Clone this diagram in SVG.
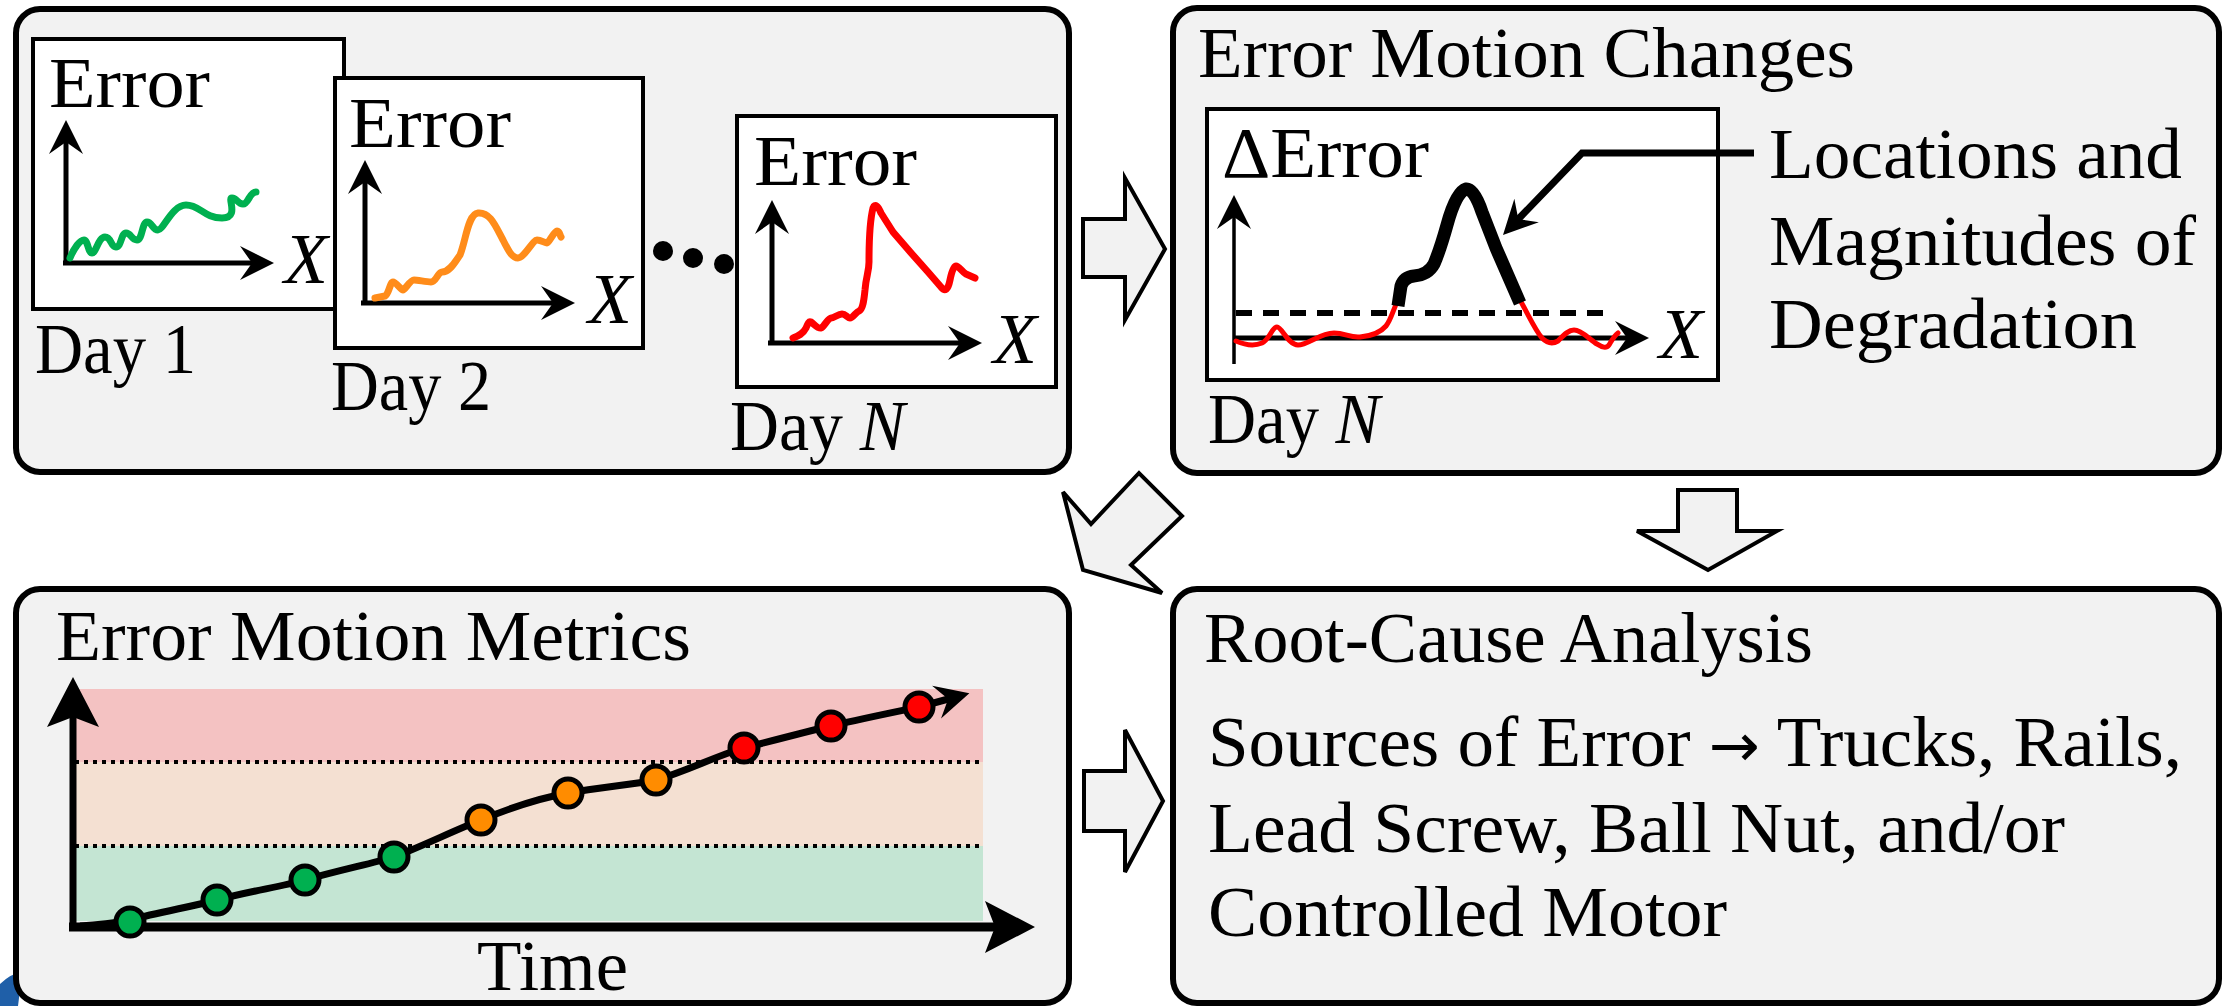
<svg xmlns="http://www.w3.org/2000/svg" width="2229" height="1006" viewBox="0 0 2229 1006">
<style>
.t{font-family:"Liberation Serif","Times New Roman",serif;font-size:72px;fill:#000}
.i{font-style:italic}
.panel{fill:#F2F2F2;stroke:#000;stroke-width:6}
.box{fill:#fff;stroke:#000;stroke-width:4}
.ax{fill:none;stroke:#000;stroke-width:5;marker-end:url(#ah)}
.blk{fill:#F2F2F2;stroke:#000;stroke-width:4;stroke-linejoin:miter}
.crv{fill:none;stroke-width:7;stroke-linecap:round;stroke-linejoin:round}
.dot{stroke:#000;stroke-width:5}
</style>
<defs>
<marker id="ah" markerUnits="userSpaceOnUse" viewBox="-20 -20 40 40" markerWidth="40" markerHeight="40" refX="0" refY="0" orient="auto"><path d="M18,0 L-16,-17 L-4,0 L-16,17 Z" fill="#000"/></marker>
<marker id="ahb" markerUnits="userSpaceOnUse" viewBox="-30 -30 60 60" markerWidth="60" markerHeight="60" refX="0" refY="0" orient="auto"><path d="M26,0 L-24,-26 L-14,0 L-24,26 Z" fill="#000"/></marker>
</defs>
<rect width="2229" height="1006" fill="#fff"/>
<path d="M0,984 Q10,974 26,970 L20,990 L18,1006 L0,1006 Z" fill="#1F5FA8"/>

<g id="daily-error">
<rect class="panel" x="16" y="9" width="1053" height="463" rx="24"/>
<g id="day1">
<rect class="box" x="33" y="39" width="311" height="270"/>
<text class="t" x="49" y="107" textLength="161" lengthAdjust="spacingAndGlyphs">Error</text>
<line class="ax" x1="66" y1="265" x2="66" y2="138"/>
<line class="ax" x1="63" y1="263" x2="256" y2="263"/>
<path class="crv" stroke="#00B050" d="M70,258 C74,248 80,240 84,240 S88,253 92,253 S98.5,237 105,237 S110.5,247 116,247 S121,233 126,233 S131.5,240 137,240 S142,222 147,222 S152.5,230 158,230 S172,205 186,205 S204,218 222,218 S227,198 232,198 S237.5,204 243,204 S249.5,192 256,192"/>
<text class="t i" x="284" y="283">X</text>
<text class="t" x="35" y="373" textLength="161" lengthAdjust="spacingAndGlyphs">Day 1</text>
</g>
<g id="day2">
<rect class="box" x="335" y="78" width="308" height="270"/>
<text class="t" x="349" y="147" textLength="162" lengthAdjust="spacingAndGlyphs">Error</text>
<line class="ax" x1="365" y1="305" x2="365" y2="178"/>
<line class="ax" x1="361" y1="303" x2="557" y2="303"/>
<path class="crv" stroke="#FF8C1A" d="M375,298 L385,296 C389,294 390,282 393,282 S401,290 403,290 S410,280 414,280 S426,282 431,282 S438,272 442,272 C450,272 455,262 460,255 C466,240 468,214 478,213 C490,212 495,225 503,240 C508,250 512,258 518,258 S533,240 537,240 S545,243 547,243 S554,231 557,231 S560,236 561,237"/>
<text class="t i" x="588" y="323">X</text>
<text class="t" x="331" y="410" textLength="160" lengthAdjust="spacingAndGlyphs">Day 2</text>
</g>
<g id="ellipsis">
<circle cx="663" cy="251" r="10"/>
<circle cx="693" cy="258" r="10"/>
<circle cx="724" cy="264" r="10"/>
</g>
<g id="dayN">
<rect class="box" x="737" y="116" width="319" height="271"/>
<text class="t" x="754" y="185" textLength="163" lengthAdjust="spacingAndGlyphs">Error</text>
<line class="ax" x1="772" y1="345" x2="772" y2="218"/>
<line class="ax" x1="768" y1="343" x2="964" y2="343"/>
<path class="crv" stroke="#FF0000" d="M793,338 C798,336 803,334 806,328 C808,323 809,321 811,322 S818,329 821,328 S828,318 831,318 S838,314 842,314 S847,318 850,318 S856,312 859,311 C863,309 864,300 865,290 C866,276 869,272 869,262 C869,245 870,220 873,208 C875,203 878,206 881,213 L893,232 L912,254 L928,272 L941,287 C945,292 948,290 950,280 C952,270 954,266 956,266 C959,266 962,272 966,274 L975,278"/>
<text class="t i" x="993" y="363">X</text>
<text class="t" x="730" y="450" textLength="175" lengthAdjust="spacingAndGlyphs">Day <tspan class="i">N</tspan></text>
</g>
</g>

<g id="error-motion-changes">
<rect class="panel" x="1173" y="8" width="1046" height="465" rx="24"/>
<text class="t" x="1198" y="77" textLength="657" lengthAdjust="spacingAndGlyphs">Error Motion Changes</text>
<rect class="box" x="1207" y="109" width="511" height="271"/>
<text class="t" x="1222" y="177" textLength="207" lengthAdjust="spacingAndGlyphs">ΔError</text>
<line class="ax" x1="1234" y1="364" x2="1234" y2="213" style="stroke-width:3.5"/>
<line x1="1236" y1="313" x2="1611" y2="313" stroke="#000" stroke-width="6" stroke-dasharray="16 11"/>
<line class="ax" x1="1233" y1="338" x2="1631" y2="338"/>
<path class="crv" stroke="#FF0000" style="stroke-width:5" d="M1236,341 C1245,345 1255,346 1262,343 C1270,339 1272,327 1277,327 C1282,327 1288,345 1298,345 C1308,345 1320,333 1334,333 C1345,333 1350,338 1360,337 C1372,336 1380,333 1386,326 C1391,320 1393,310 1398,300"/>
<path class="crv" stroke="#FF0000" style="stroke-width:5" d="M1520,300 C1528,314 1535,330 1542,338 C1548,344 1553,344 1558,341 C1563,336 1568,330 1574,330 C1582,330 1590,340 1597,344 C1602,347 1606,349 1609,345 C1612,340 1614,336 1618,333"/>
<path d="M1398,306 L1401,286 Q1404,277 1414,276 Q1428,275 1434,264 Q1440,250 1447,225 Q1456,192 1466,189 Q1474,188 1482,212 L1496,248 L1520,303" fill="none" stroke="#000" stroke-width="13" stroke-linejoin="round"/>
<text class="t i" x="1659" y="358">X</text>
<polyline points="1754,153 1582,153 1515.5,222" fill="none" stroke="#000" stroke-width="7" marker-end="url(#ah)"/>
<text class="t" x="1769" y="178" textLength="413" lengthAdjust="spacingAndGlyphs">Locations and</text>
<text class="t" x="1769" y="265" textLength="427" lengthAdjust="spacingAndGlyphs">Magnitudes of</text>
<text class="t" x="1769" y="348" textLength="368" lengthAdjust="spacingAndGlyphs">Degradation</text>
<text class="t" x="1208" y="443" textLength="172" lengthAdjust="spacingAndGlyphs">Day <tspan class="i">N</tspan></text>
</g>

<g id="error-motion-metrics">
<rect class="panel" x="16" y="589" width="1053" height="414" rx="24"/>
<text class="t" x="56" y="660" textLength="635" lengthAdjust="spacingAndGlyphs">Error Motion Metrics</text>
<rect x="75" y="689" width="908" height="73" fill="#F4C2C2"/>
<rect x="75" y="762" width="908" height="84" fill="#F4E0D2"/>
<rect x="75" y="846" width="908" height="75" fill="#C4E5D3"/>
<line x1="75" y1="762" x2="983" y2="762" stroke="#000" stroke-width="4" stroke-dasharray="4 5"/>
<line x1="75" y1="846" x2="983" y2="846" stroke="#000" stroke-width="4" stroke-dasharray="4 5"/>
<line x1="73" y1="931" x2="73" y2="703" stroke="#000" stroke-width="7" marker-end="url(#ahb)"/>
<line x1="69" y1="927" x2="1009" y2="927" stroke="#000" stroke-width="9" marker-end="url(#ahb)"/>
<path d="M80,926 C100,925 115,923 130,920 C160,912 190,907 217,900 C250,891 280,887 305,880 C340,870 370,864 394,857 C425,845 455,830 481,820 C510,808 540,798 568,793 C600,787 630,785 656,780 C690,770 715,756 744,748 C775,740 805,732 831,726 C865,718 895,712 919,707 L952,698" fill="none" stroke="#000" stroke-width="7" stroke-linejoin="round" marker-end="url(#ah)"/>
<g class="dot" fill="#00B050">
<circle cx="130" cy="922" r="14"/>
<circle cx="217" cy="900" r="14"/>
<circle cx="305" cy="880" r="14"/>
<circle cx="394" cy="857" r="14"/>
</g>
<g class="dot" fill="#FF8C00">
<circle cx="481" cy="820" r="14"/>
<circle cx="568" cy="793" r="14"/>
<circle cx="656" cy="780" r="14"/>
</g>
<g class="dot" fill="#FF0000">
<circle cx="744" cy="748" r="14"/>
<circle cx="831" cy="726" r="14"/>
<circle cx="919" cy="707" r="14"/>
</g>
<text class="t" x="477" y="990" textLength="151" lengthAdjust="spacingAndGlyphs">Time</text>
</g>

<g id="root-cause-analysis">
<rect class="panel" x="1173" y="589" width="1046" height="414" rx="24"/>
<text class="t" x="1204" y="662" textLength="609" lengthAdjust="spacingAndGlyphs">Root-Cause Analysis</text>
<text class="t" x="1208" y="766" textLength="974" lengthAdjust="spacingAndGlyphs">Sources of Error <tspan style="font-family:'DejaVu Sans',sans-serif;font-size:60px">→</tspan> Trucks, Rails,</text>
<text class="t" x="1208" y="852" textLength="857" lengthAdjust="spacingAndGlyphs">Lead Screw, Ball Nut, and/or</text>
<text class="t" x="1208" y="936" textLength="519" lengthAdjust="spacingAndGlyphs">Controlled Motor</text>
</g>

<g id="connectors">
<polygon class="blk" points="1083,219 1125,219 1125,178 1165,249 1125,320 1125,277 1083,277"/>
<polygon class="blk" points="1678,490 1737,490 1737,531 1777,531 1708,570 1637,531 1678,531"/>
<polygon class="blk" points="1063,492 1091,524 1139,473 1182,516 1131,565 1162,593 1083,570"/>
<polygon class="blk" points="1084,771 1125,771 1125,730 1163,801 1125,872 1125,831 1084,831"/>
</g>
</svg>
